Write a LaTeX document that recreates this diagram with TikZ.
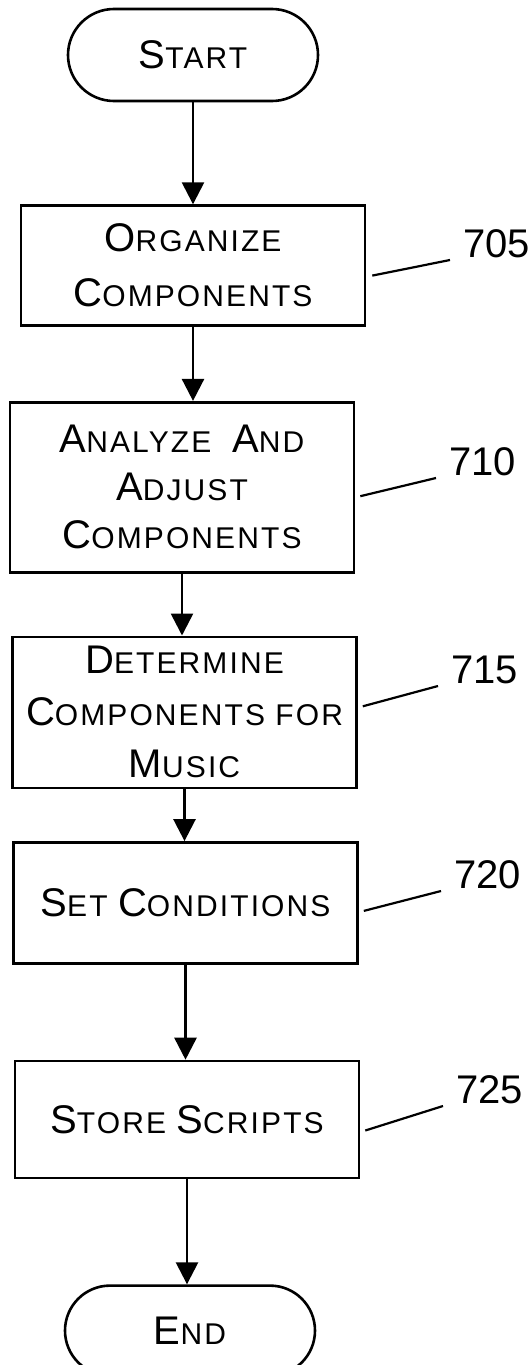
\documentclass[tikz,border=0pt]{standalone}
\usepackage{fontspec}
\newfontfamily\flowfont[LetterSpace=7]{Liberation Sans}
\newfontfamily\numfont{Liberation Sans}
\usetikzlibrary{shapes.misc}
\usetikzlibrary{positioning}
\usetikzlibrary{arrows.meta}

\newcommand\bigsc[2]{{\fontsize{40}{50}\selectfont #1}#2}

\begin{document}
\begin{tikzpicture} [x=1pt,y=-1pt,line width=2.6pt,
     font=\flowfont\fontsize{30}{50}\selectfont,
     rr/.style={rounded rectangle, draw, minimum width=250pt, minimum height=92pt, inner sep=0pt},
     bx/.style={rectangle, draw, minimum width=344pt, align=center, inner sep=0pt},
     num/.style={anchor=base west, inner sep=0pt, font=\numfont\fontsize{40}{44}\selectfont},
     arr/.style={-{Triangle[length=22pt,width=22pt]}},
     lead/.style={line width=2.2pt}
   ]
\useasboundingbox (0,0) rectangle (531,1365);

\node (start) [rr] at (193,55) {\bigsc{S}{TART}};
\node (organize) [bx, minimum height=120pt, below=102pt of start]
  {\bigsc{O}{RGANIZE}\\[5pt]\bigsc{C}{OMPONENTS}};
\node (analyze) [bx, minimum height=170pt, below=74pt of organize, xshift=-11pt]
  {\bigsc{A}{NALYZE}\ \ \bigsc{A}{ND}\\[-2pt]\bigsc{A}{DJUST}\\[-2pt]\bigsc{C}{OMPONENTS}};
\node (determine) [bx, minimum height=151pt, below=62pt of analyze, xshift=2.5pt]
  {\bigsc{D}{ETERMINE}\\[2pt]\bigsc{C}{OMPONENTS FOR}\\[2pt]\bigsc{M}{USIC}};
\node (conditions) [bx, minimum height=121pt, below=52pt of determine, xshift=1pt]
  {\bigsc{S}{ET} \bigsc{C}{ONDITIONS}};
\node (scripts) [bx, minimum height=117pt, below=95pt of conditions, xshift=1.5pt]
  {\bigsc{S}{TORE} \bigsc{S}{CRIPTS}};
\node (end) [rr, minimum height=90pt, below=105pt of scripts, xshift=3pt] {\bigsc{E}{ND}};

% reference numbers
\node (n705) [num] at (462,257) {705};
\node (n710) [num] at (448,475) {710};
\node (n715) [num] at (450,683) {715};
\node (n720) [num] at (453,888) {720};
\node (n725) [num] at (455,1103) {725};

\draw[arr] (start.south) -- (start.south |- organize.north);
\draw[arr] (organize.south) -- (organize.south |- analyze.north);
\draw[arr] (analyze.south) -- (analyze.south |- determine.north);
\draw[arr] (determine.south) -- (determine.south |- conditions.north);
\draw[arr] (conditions.south) -- (conditions.south |- scripts.north);
\draw[arr] (scripts.south) -- (scripts.south |- end.north);

\draw[lead] ([xshift=6pt,yshift=-10pt]organize.east) -- ([xshift=-12pt,yshift=-3pt]n705.base west);
\draw[lead] ([xshift=5pt,yshift=-9pt]analyze.east) -- ([xshift=-12pt,yshift=-3pt]n710.base west);
\draw[lead] ([xshift=5pt,yshift=6pt]determine.east) -- ([xshift=-12pt,yshift=-3pt]n715.base west);
\draw[lead] ([xshift=5pt,yshift=-8pt]conditions.east) -- ([xshift=-12pt,yshift=-3pt]n720.base west);
\draw[lead] ([xshift=5pt,yshift=-11pt]scripts.east) -- ([xshift=-12pt,yshift=-3pt]n725.base west);
\end{tikzpicture}
\end{document}
